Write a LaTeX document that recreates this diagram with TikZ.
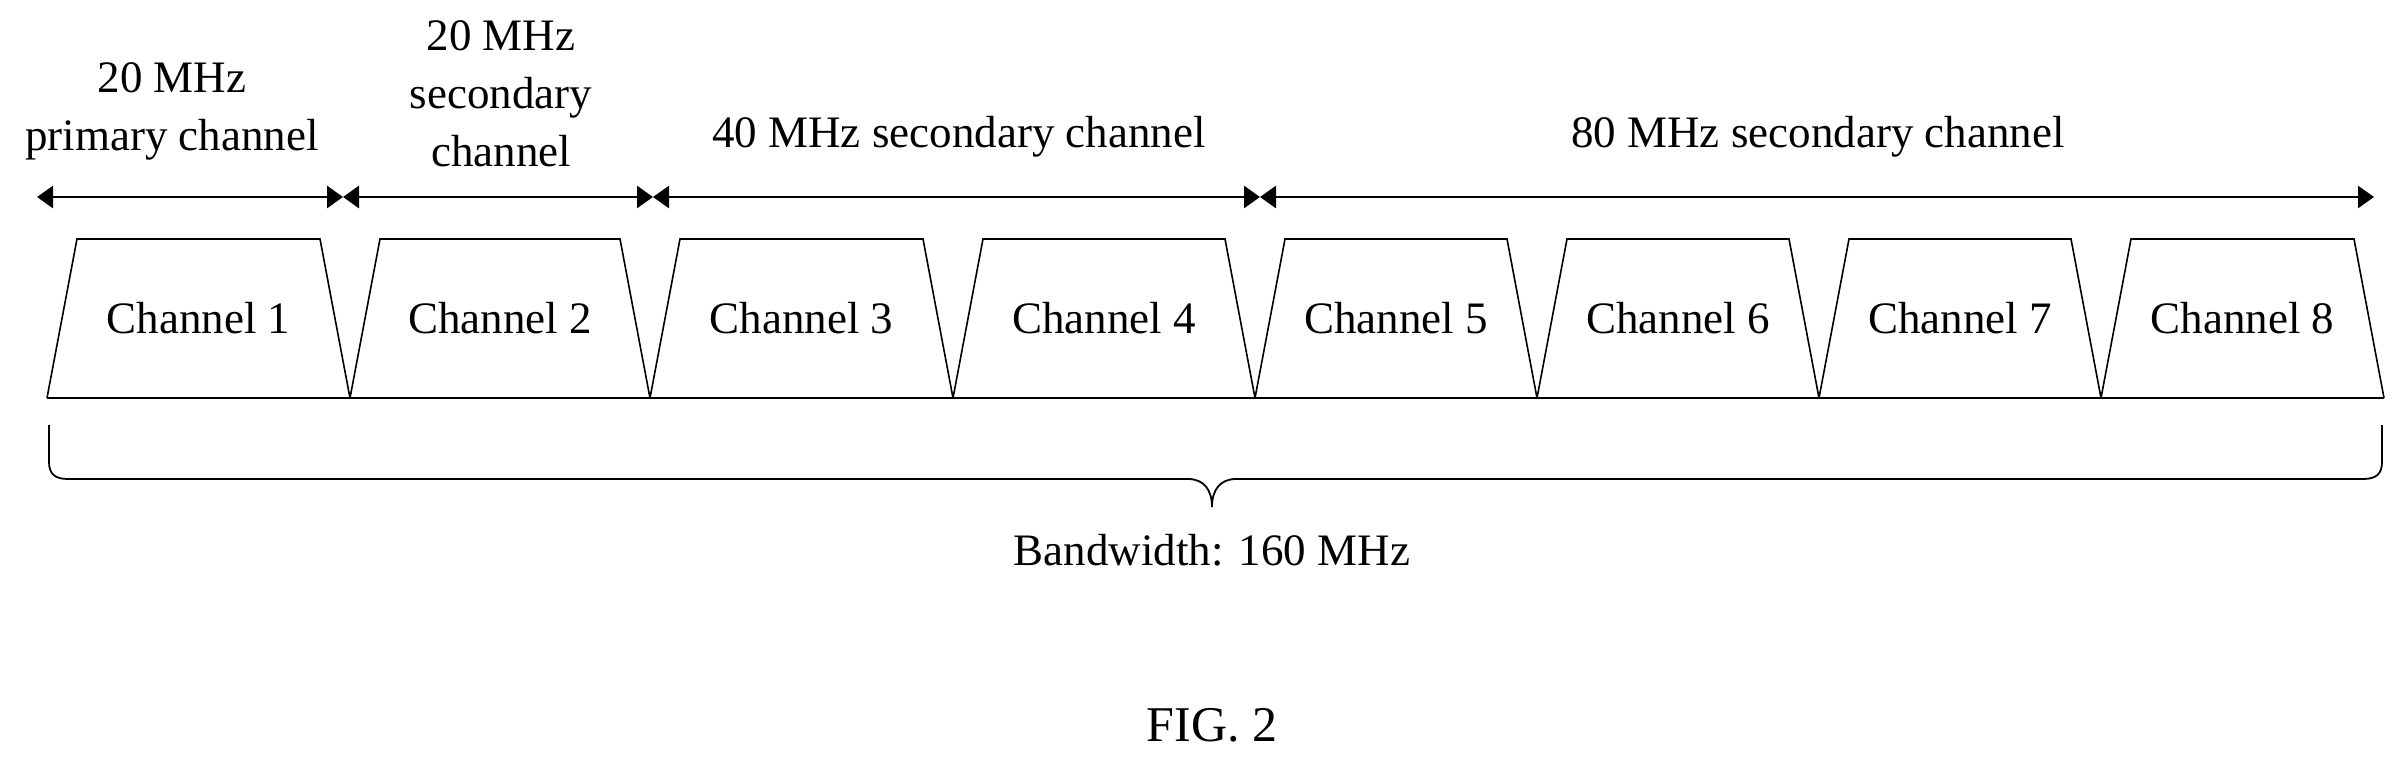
\documentclass[tikz,border=0pt]{standalone}
\usepackage{fontspec}
\setmainfont{Liberation Serif}
\usetikzlibrary{arrows.meta}
\begin{document}
\begin{tikzpicture}[x=0.5pt,y=-0.5pt,
  lbl/.style={font=\fontsize{22.5}{29}\selectfont,align=center,inner sep=0},
  ch/.style={line width=0.8pt},
  arr/.style={line width=1.4pt,{Triangle[length=8pt,width=11pt]}-{Triangle[length=8pt,width=11pt]}}]
\useasboundingbox (0,0) rectangle (2405,765);
% channels
\foreach \a/\b/\n in {47/350/1,350/650/2,650/953/3,953/1255/4,1255/1537/5,1537/1819/6,1819/2101/7,2101/2384/8}{
  \draw[ch] (\a,398) -- (\a+30,239) -- (\b-30,239) -- (\b,398);
  \node[lbl] (c\n) at ({(\a+\b)/2},318) {Channel \n};
}
\draw[line width=1.2pt] (47,398) -- (2384,398);
% arrows
\coordinate (p0) at (37,197); \coordinate (p1) at (343,197);
\coordinate (p2) at (653,197); \coordinate (p3) at (1260,197);
\coordinate (p4) at (2374,197);
\draw[arr] (p0) -- (p1);
\draw[arr] (p1) -- (p2);
\draw[arr] (p2) -- (p3);
\draw[arr] (p3) -- (p4);
\node[lbl] (t1) at (172,111) {20 MHz\\primary channel};
\node[lbl] (t2) at (501,94) {20 MHz\\secondary\\channel};
\node[lbl] (t3) at (959,137) {40 MHz secondary channel};
\node[lbl] (t4) at (1818,137) {80 MHz secondary channel};
% brace
\draw[line width=0.9pt] (49,425) -- (49,462) .. controls (49,474) and (55,479) .. (68,479)
  -- (1188,479) .. controls (1204,479) and (1212,490) .. (1212,507)
  .. controls (1212,490) and (1220,479) .. (1236,479) -- (2363,479)
  .. controls (2376,479) and (2382,474) .. (2382,462) -- (2382,425);
\node[lbl] (bw) at (1212,550) {Bandwidth: 160 MHz};
\node[lbl,font=\fontsize{25}{30}\selectfont] (fig) at (1212,725) {FIG. 2};
\end{tikzpicture}
\end{document}
